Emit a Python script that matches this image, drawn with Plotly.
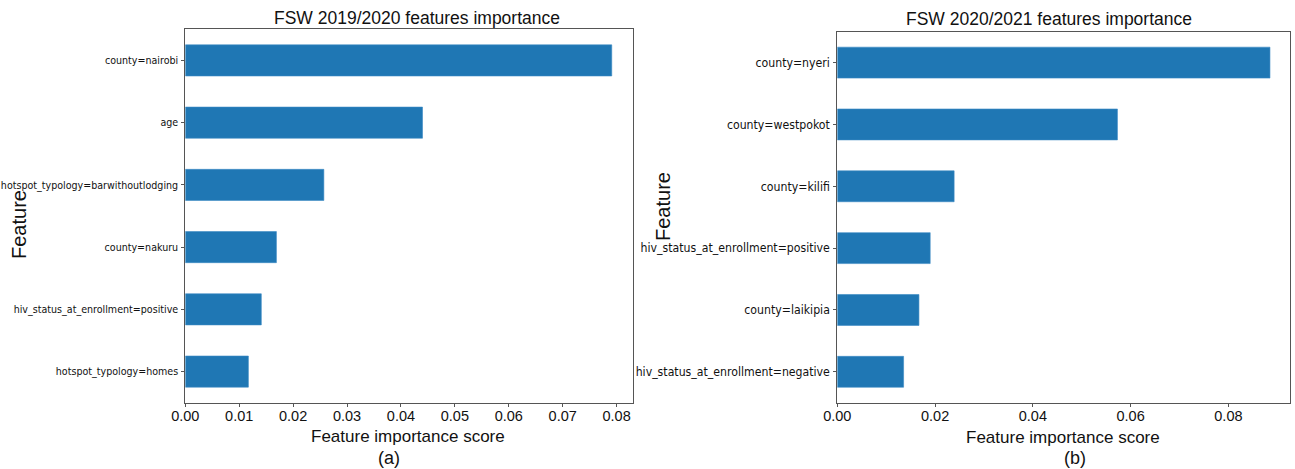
import plotly.graph_objects as go

W, H = 1295, 469

# Data (top-to-bottom order as shown)
feat_a = ["county=nairobi", "age", "hotspot_typology=barwithoutlodging",
          "county=nakuru", "hiv_status_at_enrollment=positive", "hotspot_typology=homes"]
score_a = [0.0791, 0.0440, 0.0257, 0.0169, 0.0141, 0.0117]

feat_b = ["county=nyeri", "county=westpokot", "county=kilifi",
          "hiv_status_at_enrollment=positive", "county=laikipia", "hiv_status_at_enrollment=negative"]
score_b = [0.0885, 0.0573, 0.0239, 0.0190, 0.0167, 0.01356]

ticks_a = [0.00, 0.01, 0.02, 0.03, 0.04, 0.05, 0.06, 0.07, 0.08]
ticks_b = [0.00, 0.02, 0.04, 0.06, 0.08]

BAR = "#1f77b4"
LINE = "#555555"
REG = "Liberation Sans, Arial, sans-serif"
NARROW = "DejaVu Sans Condensed, sans-serif"

def px(x):
    return x / W

def py(y):
    return 1 - y / H

fig = go.Figure()
fig.add_trace(go.Bar(x=score_a, y=feat_a, orientation="h", width=0.5,
                     marker=dict(color=BAR, line=dict(color="#3a8ac4", width=0.6)),
                     xaxis="x", yaxis="y", showlegend=False))
fig.add_trace(go.Bar(x=score_b, y=feat_b, orientation="h", width=0.5,
                     marker=dict(color=BAR, line=dict(color="#3a8ac4", width=0.6)),
                     xaxis="x2", yaxis="y2", showlegend=False))

common_x = dict(showline=True, mirror=True, linecolor=LINE, linewidth=1,
                ticks="outside", ticklen=3, tickcolor=LINE, showgrid=False,
                zeroline=False, automargin=False, ticklabelstandoff=-3,
                tickfont=dict(family=REG, size=14.5, color="#111"))
common_y = dict(showline=True, mirror=True, linecolor=LINE, linewidth=1,
                ticks="outside", ticklen=3, tickcolor=LINE, showgrid=False,
                zeroline=False, type="category", ticklabelstandoff=1, automargin=False)

fig.update_layout(
    width=W, height=H,
    margin=dict(l=0, r=0, t=0, b=0),
    paper_bgcolor="white", plot_bgcolor="white",
    bargap=0.5,
    xaxis=dict(domain=[px(185.3), px(633.3)], range=[0, 0.0831], anchor="y",
               tickvals=ticks_a, ticktext=[f"{v:.2f}" for v in ticks_a], **common_x),
    yaxis=dict(domain=[py(402.7), py(29.3)], anchor="x", range=[5.5, -0.5],
               categoryorder="array", categoryarray=feat_a,
               tickfont=dict(family=NARROW, size=10.6, color="#111"), **common_y),
    xaxis2=dict(domain=[px(837.3), px(1290)], range=[0, 0.0926], anchor="y2",
                tickvals=ticks_b, ticktext=[f"{v:.2f}" for v in ticks_b], **common_x),
    yaxis2=dict(domain=[py(402.7), py(31.7)], anchor="x2", range=[5.5, -0.5],
                categoryorder="array", categoryarray=feat_b,
                tickfont=dict(family=NARROW, size=12.2, color="#111"), **common_y),
)

def ann(text, x, y, size, angle=0, family=REG):
    fig.add_annotation(text=text, x=px(x), y=py(y), xref="paper", yref="paper",
                       showarrow=False, xanchor="center", yanchor="middle",
                       textangle=angle, font=dict(family=family, size=size, color="#111"))

ann("FSW 2019/2020 features importance", 417, 18, 17.5)
ann("FSW 2020/2021 features importance", 1049, 19, 17.5)
ann("Feature importance score", 408, 436, 17)
ann("Feature importance score", 1063, 437, 17)
ann("(a)", 389, 458, 18)
ann("(b)", 1075, 458, 18)
ann("Feature", 19, 225, 20, angle=-90)
ann("Feature", 663, 207, 20, angle=-90)

fig.write_html("out.html")
